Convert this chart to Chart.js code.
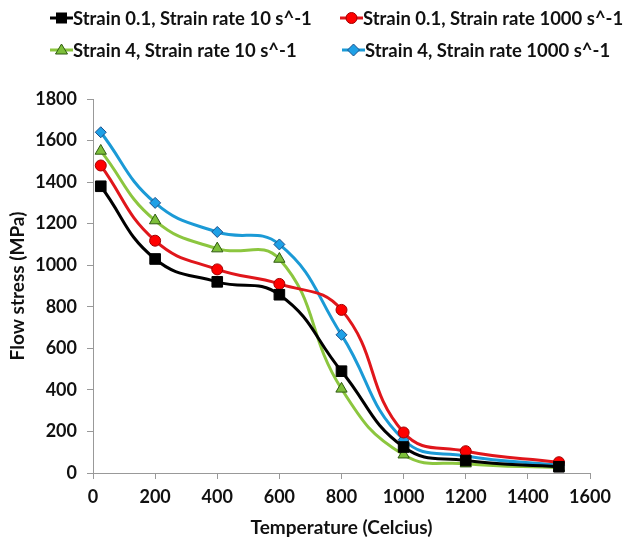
<!DOCTYPE html>
<html><head><meta charset="utf-8">
<script src="https://cdn.jsdelivr.net/npm/chart.js@4"></script>
<style>
html,body{margin:0;padding:0;background:#fff;}
#wrap{position:relative;width:623px;height:541px;}
#c{position:absolute;left:0;top:0;}
.leg{position:absolute;font-family:Lato,sans-serif;font-weight:bold;font-size:19px;color:#111;white-space:nowrap;display:flex;align-items:center;height:24px;}
.leg svg{flex:none;}
</style></head>
<body><div id="wrap"><canvas id="c" width="623" height="541"></canvas></div>
<script>
const temperatures = [25, 200, 400, 600, 800, 1000, 1200, 1500];
const seriesLabels = ["Strain 0.1, Strain rate 10 s^-1","Strain 0.1, Strain rate 1000 s^-1","Strain 4, Strain rate 10 s^-1","Strain 4, Strain rate 1000 s^-1"];
const strain01rate10   = [1380, 1030, 920, 858, 490, 125, 60, 30];
const strain01rate1000 = [1480, 1118, 980, 910, 785, 195, 105, 52];
const strain4rate10    = [1550, 1215, 1080, 1030, 405, 88, 45, 25];
const strain4rate1000  = [1640, 1300, 1160, 1100, 665, 160, 82, 38];
const xTicks = [0,200,400,600,800,1000,1200,1400,1600];
const yTicks = [0,200,400,600,800,1000,1200,1400,1600,1800];

const styles = [
  {line:'#000000', fill:'#000000', border:'#000000', shape:'rect', r:7.5},
  {line:'#e0161b', fill:'#ff0000', border:'#a00000', shape:'circle', r:5.5},
  {line:'#8cc63f', fill:'#7dbf3a', border:'#2f5a10', shape:'triangle', r:6.5},
  {line:'#1b9ad6', fill:'#1ea0e6', border:'#1d4f8a', shape:'rectRot', r:5.5}
];
const allSeries = [strain01rate10, strain01rate1000, strain4rate10, strain4rate1000];

const datasets = allSeries.map((vals,i)=>({
  label: seriesLabels[i],
  data: vals.map((v,j)=>({x:temperatures[j], y:v})),
  borderColor: styles[i].line,
  backgroundColor: styles[i].fill,
  pointBackgroundColor: styles[i].fill,
  pointBorderColor: styles[i].border,
  pointBorderWidth: 1,
  pointStyle: styles[i].shape,
  pointRadius: styles[i].r,
  borderWidth: 3,
  tension: 0.45,
  clip: false
}));
const fontTick = {family:'Lato', weight:'bold', size:18};
const fontTitle = {family:'Lato', weight:'bold', size:19};
new Chart(document.getElementById('c'), {
  type:'line',
  data:{datasets},
  options:{
    responsive:false, animation:false,
    layout:{padding:{top:99,right:33,left:0,bottom:0}},
    plugins:{legend:{display:false}, tooltip:{enabled:false}},
    scales:{
      x:{type:'linear', min:0, max:1600,
        afterBuildTicks: s=>{ s.ticks = xTicks.map(v=>({value:v})); },
        afterFit: s=>{ s.height = 68; },
        grid:{display:true, drawOnChartArea:false, tickLength:6, color:'#999'},
        border:{color:'#999', width:1},
        ticks:{color:'#111', font:fontTick, padding:7, callback:v=>String(v)},
        title:{display:true, text:'Temperature (Celcius)', color:'#111', font:fontTitle, padding:{top:0,bottom:2}}
      },
      y:{min:0, max:1800,
        afterBuildTicks: s=>{ s.ticks = yTicks.map(v=>({value:v})); },
        afterFit: s=>{ s.width = 93; },
        grid:{display:true, drawOnChartArea:false, tickLength:6, color:'#999'},
        border:{color:'#999', width:1},
        ticks:{color:'#111', font:fontTick, padding:10, callback:v=>String(v)},
        title:{display:true, text:'Flow stress (MPa)', color:'#111', font:fontTitle, padding:{top:6,bottom:4}}
      }
    }
  }
});

// HTML legend built from the same series definitions
// [marker-line left x, row centre y]
const legPos = [[50,18],[340,18],[50,50],[342,50]];
const wrap = document.getElementById('wrap');
const mc = document.createElement('canvas').getContext('2d');
mc.font = 'bold 19px Lato';
const w19 = mc.measureText(seriesLabels[0]).width;
const legSize = Math.max(14, Math.min(21, 19 * 239 / w19));
function markerSvg(st){
  let m='';
  const cx=11.5, cy=9;
  if(st.shape==='rect') m=`<rect x="${cx-5}" y="${cy-5}" width="10" height="10" fill="${st.fill}" stroke="${st.border}"/>`;
  else if(st.shape==='circle') m=`<circle cx="${cx}" cy="${cy}" r="5.5" fill="${st.fill}" stroke="${st.border}"/>`;
  else if(st.shape==='triangle') m=`<polygon points="${cx},${cy-6} ${cx+6},${cy+4} ${cx-6},${cy+4}" fill="${st.fill}" stroke="${st.border}"/>`;
  else m=`<polygon points="${cx},${cy-6} ${cx+6},${cy} ${cx},${cy+6} ${cx-6},${cy}" fill="${st.fill}" stroke="${st.border}"/>`;
  return `<svg width="23" height="18"><line x1="0" y1="${cy}" x2="23" y2="${cy}" stroke="${st.line}" stroke-width="3"/>${m}</svg>`;
}
seriesLabels.forEach((lab,i)=>{
  const d=document.createElement('div');
  d.className='leg';
  d.style.fontSize = legSize+'px';
  d.style.left=legPos[i][0]+'px'; d.style.top=(legPos[i][1]-12)+'px';
  d.innerHTML=markerSvg(styles[i]);
  const sp=document.createElement('span'); sp.textContent=lab; d.appendChild(sp);
  wrap.appendChild(d);
});
</script>
</body></html>
